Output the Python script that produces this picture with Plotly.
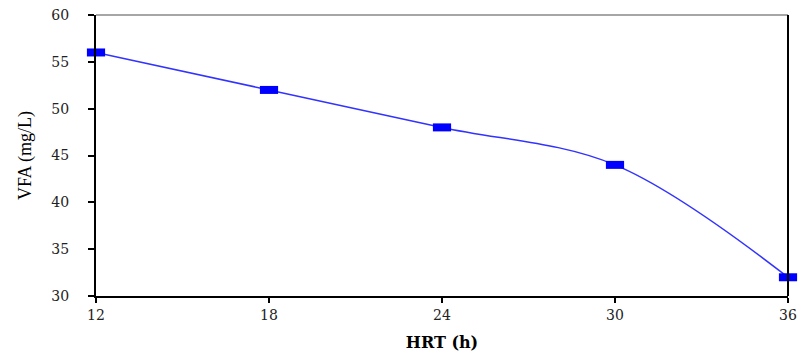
import plotly.graph_objects as go

hrt = [12, 18, 24, 30, 36]
vfa = [56, 52, 48, 44, 32]
x_ticks = [12, 18, 24, 30, 36]
y_ticks = [30, 35, 40, 45, 50, 55, 60]

fig = go.Figure()
fig.add_trace(go.Scatter(
    x=hrt, y=vfa, mode="lines",
    line=dict(color="#3333ff", width=1.5, shape="spline", smoothing=1.0),
    hoverinfo="skip", showlegend=False, cliponaxis=False,
))
fig.add_trace(go.Scatter(
    x=hrt, y=vfa, mode="markers",
    marker=dict(symbol="line-ew", size=13, color="#0000ff",
                line=dict(color="#0000ff", width=8)),
    showlegend=False, cliponaxis=False,
))

tickfont = dict(family="DejaVu Serif", size=14, color="#222")
fig.update_layout(
    width=800, height=354,
    margin=dict(l=96, r=12, t=15, b=58, autoexpand=False),
    plot_bgcolor="white", paper_bgcolor="white",
    xaxis=dict(
        range=[12, 36], tickvals=x_ticks, ticktext=[str(v) for v in x_ticks],
        showgrid=False, zeroline=False, showline=True, linecolor="black", linewidth=2,
        ticks="outside", ticklen=5, tickwidth=2, tickcolor="black",
        tickfont=tickfont, automargin=False, ticklabeloverflow="allow",
        title=dict(text="HRT (h)", font=dict(family="DejaVu Serif", size=16, color="black", weight="bold")),
    ),
    yaxis=dict(
        range=[30, 60], tickvals=y_ticks,
        showgrid=False, zeroline=False, showline=True, linecolor="black", linewidth=2,
        ticks="outside", ticklen=6, tickwidth=1.5, tickcolor="black",
        tickfont=tickfont, ticklabelstandoff=16, automargin=False, ticklabeloverflow="allow",
        title=dict(text="VFA (mg/L)", font=dict(family="Liberation Serif", size=18, color="black")),
    ),
    shapes=[
        dict(type="line", xref="paper", yref="paper", x0=0, x1=1, y0=1, y1=1,
             line=dict(color="#888888", width=1.5)),
        dict(type="line", xref="paper", yref="paper", x0=1, x1=1, y0=0, y1=1,
             line=dict(color="black", width=2)),
    ],
)
fig.write_html("out.html", config={"displayModeBar": False},
               post_script="document.body.style.margin='0';")
